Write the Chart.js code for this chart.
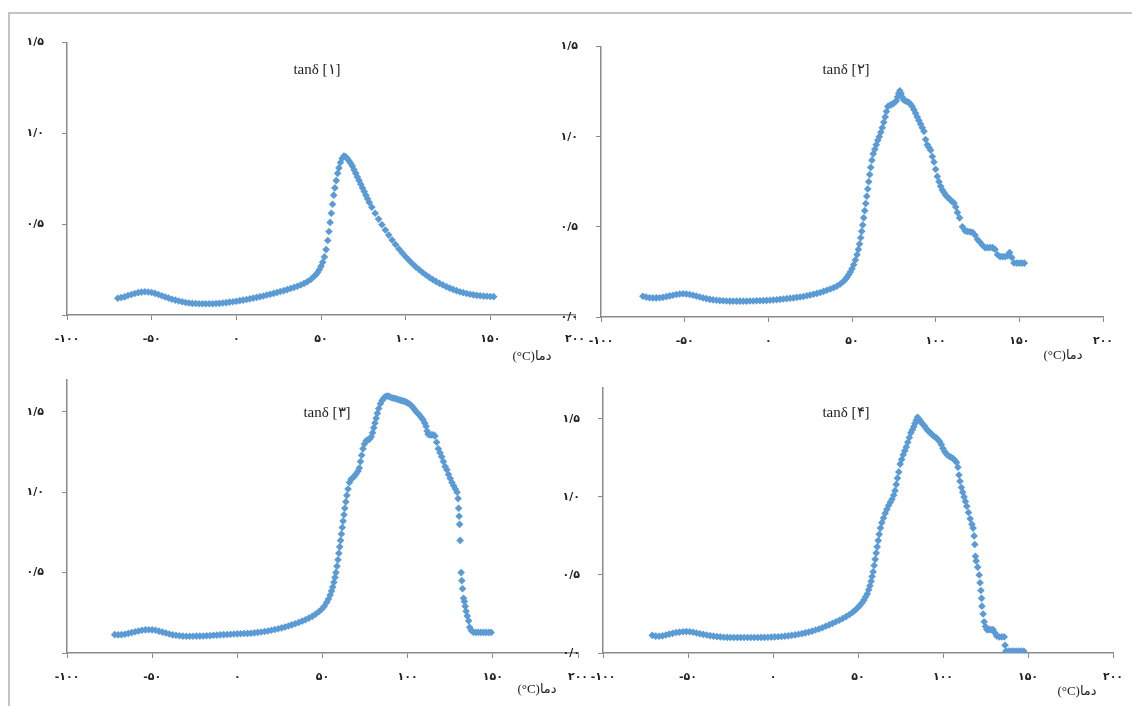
<!DOCTYPE html>
<html>
<head>
<meta charset="utf-8">
<script src="https://cdn.jsdelivr.net/npm/chart.js@4"></script>
<style>
    body { margin: 0; background: #fff; width: 1132px; height: 706px; overflow: hidden; position: relative; }
    #frame { position: absolute; left: 8px; top: 12px; width: 1130px; height: 700px; border-top: 2px solid #c4c4c4; border-left: 2px solid #c4c4c4; }
    canvas { position: absolute; }
</style>
</head>
<body>
<div id="frame"></div>
<canvas id="c1"></canvas>
<canvas id="c2"></canvas>
<canvas id="c3"></canvas>
<canvas id="c4"></canvas>
<script>
const xTicks = [-100, -50, 0, 50, 100, 150, 200];
const yTicks = [0, 0.5, 1.0, 1.5];
const axisTitle = '(°C)دما';
const seriesNames = ['tanδ [۱]', 'tanδ [۲]', 'tanδ [۳]', 'tanδ [۴]'];

const temp1 = [-70,-68,-66,-64,-62,-60,-58,-56,-54,-52,-50,-48,-46,-44,-42,-40,-38,-36,-34,-32,-30,-28,-26,-24,-22,-20,-18,-16,-14,-12,-10,-8,-6,-4,-2,0,2,4,6,8,10,12,14,16,18,20,22,24,26,28,30,32,34,36,38,40,42,44,46,47,48,49,50,51,52,53,54,54.7,55.4,56.1,56.8,57.5,58.2,59,59.8,60.6,61.5,62.5,63.5,64.5,65.5,66.5,67.5,68.5,69.5,70.5,71.5,72.5,73.5,74.5,75.5,76.5,77.5,78.5,80,82,84,86,88,90,92,94,96,98,100,102,104,106,108,110,112,114,116,118,120,122,124,126,128,130,132,134,136,138,140,142,144,146,148,150,152];
const tan1 = [0.092,0.096,0.100,0.107,0.113,0.118,0.123,0.126,0.128,0.127,0.124,0.119,0.113,0.106,0.099,0.093,0.087,0.082,0.077,0.073,0.069,0.066,0.064,0.063,0.062,0.062,0.062,0.062,0.062,0.063,0.064,0.066,0.068,0.071,0.073,0.076,0.079,0.082,0.085,0.089,0.093,0.097,0.101,0.105,0.110,0.114,0.119,0.124,0.129,0.134,0.140,0.146,0.152,0.158,0.165,0.174,0.184,0.196,0.213,0.222,0.234,0.249,0.268,0.29,0.32,0.36,0.41,0.46,0.51,0.56,0.61,0.66,0.70,0.74,0.78,0.81,0.84,0.862,0.875,0.872,0.862,0.85,0.836,0.82,0.80,0.78,0.76,0.74,0.72,0.70,0.68,0.66,0.64,0.62,0.594,0.56,0.528,0.497,0.468,0.44,0.413,0.388,0.364,0.342,0.321,0.301,0.282,0.265,0.249,0.234,0.22,0.207,0.195,0.184,0.174,0.165,0.156,0.148,0.141,0.134,0.128,0.123,0.118,0.114,0.111,0.108,0.106,0.104,0.103,0.102,0.101];

const temp2 = [-75,-73,-71,-69,-67,-65,-63,-61,-59,-57,-55,-53,-51,-49,-47,-45,-43,-41,-39,-37,-35,-33,-31,-29,-27,-25,-23,-21,-19,-17,-15,-13,-11,-9,-7,-5,-3,-1,1,3,5,7,9,11,13,15,17,19,21,23,25,27,29,31,33,35,37,39,41,43,45,46,47,48,49,50,51,52,53,53.8,54.5,55.2,55.8,56.4,57,57.6,58.2,58.8,59.4,60,60.6,61.2,61.9,62.7,63.6,64.5,65.4,66.3,67.2,68.1,69,69.8,70.6,71.4,72.5,73.5,74.5,75.5,76.5,77.2,77.9,78.6,79.3,80,80.8,81.8,83,84,85,86,87,88,89,90,91,92,93,94,95,96,97,98,99,100,101,102,103,104,105,106,107,108,109,110,111,112,113,114.3,116,117.6,119,120.5,122,123.5,125,126.5,128,129.5,131,132.5,134,135.5,137,138.5,140,141.5,143,144.2,145.5,146.8,148.5,150,151.5,153];
const tan2 = [0.115,0.110,0.107,0.106,0.106,0.107,0.109,0.113,0.117,0.121,0.125,0.128,0.129,0.128,0.125,0.121,0.116,0.111,0.106,0.102,0.098,0.095,0.093,0.091,0.090,0.089,0.088,0.088,0.088,0.088,0.088,0.088,0.089,0.089,0.090,0.090,0.091,0.092,0.093,0.094,0.096,0.098,0.100,0.102,0.104,0.106,0.109,0.111,0.114,0.118,0.122,0.126,0.131,0.136,0.142,0.148,0.155,0.162,0.171,0.183,0.198,0.208,0.22,0.234,0.25,0.268,0.29,0.316,0.345,0.375,0.405,0.44,0.475,0.51,0.55,0.59,0.63,0.67,0.71,0.75,0.79,0.83,0.87,0.905,0.93,0.955,0.98,1.0,1.025,1.05,1.08,1.11,1.14,1.168,1.175,1.178,1.183,1.19,1.2,1.22,1.24,1.255,1.24,1.22,1.205,1.198,1.195,1.19,1.18,1.168,1.15,1.13,1.11,1.09,1.07,1.05,1.03,0.985,0.955,0.94,0.925,0.89,0.86,0.82,0.78,0.75,0.725,0.705,0.69,0.675,0.665,0.657,0.648,0.64,0.632,0.61,0.58,0.55,0.5,0.478,0.475,0.472,0.47,0.455,0.43,0.415,0.398,0.385,0.385,0.385,0.385,0.375,0.345,0.335,0.335,0.335,0.34,0.358,0.33,0.3,0.299,0.299,0.299,0.299];

const temp3 = [-72,-70,-68,-66,-64,-62,-60,-58,-56,-54,-52,-50,-48,-46,-44,-42,-40,-38,-36,-34,-32,-30,-28,-26,-24,-22,-20,-18,-16,-14,-12,-10,-8,-6,-4,-2,0,2,4,6,8,10,12,14,16,18,20,22,24,26,28,30,32,34,36,38,40,42,44,46,48,49.5,51,52.5,53.5,54.5,55.3,56,56.7,57.3,57.9,58.5,59.1,59.6,60.1,60.6,61.1,61.6,62.1,62.6,63.1,63.7,64.3,65,65.8,66.8,67.8,68.8,69.8,70.8,71.6,72.3,73,73.8,74.6,75.6,76.6,77.6,78.6,79.4,80.1,80.8,81.5,82.2,83,84,85,86,87,88,89,90,91,92,93,94,95,96,97,98,99,100,101,102,103,104,105,106,107,108,109,110,110.8,111.4,112,113,114,115,116,117,118,119,120,121,122,123,124,125,126,127,128,129,129.6,129.9,130.2,130.5,130.8,131.4,131.8,132.2,132.8,133.3,133.8,134.3,135,135.8,136.4,137.4,138.5,140,141.5,143,144.5,146,147.5,149];
const tan3 = [0.114,0.113,0.114,0.117,0.122,0.127,0.132,0.137,0.141,0.144,0.145,0.144,0.141,0.136,0.130,0.124,0.118,0.113,0.110,0.107,0.105,0.104,0.104,0.104,0.105,0.105,0.106,0.107,0.108,0.110,0.111,0.113,0.114,0.115,0.117,0.118,0.119,0.120,0.121,0.122,0.123,0.125,0.128,0.131,0.134,0.137,0.141,0.146,0.151,0.156,0.162,0.168,0.175,0.182,0.19,0.198,0.207,0.217,0.228,0.242,0.258,0.272,0.29,0.315,0.335,0.36,0.385,0.41,0.44,0.47,0.5,0.54,0.58,0.62,0.66,0.7,0.74,0.78,0.82,0.86,0.9,0.94,0.98,1.02,1.06,1.08,1.09,1.1,1.115,1.13,1.15,1.19,1.23,1.27,1.3,1.32,1.325,1.33,1.345,1.37,1.4,1.43,1.46,1.49,1.52,1.55,1.57,1.585,1.595,1.598,1.596,1.59,1.586,1.584,1.582,1.578,1.574,1.571,1.568,1.565,1.56,1.555,1.548,1.54,1.528,1.515,1.5,1.49,1.478,1.465,1.45,1.43,1.41,1.38,1.36,1.356,1.356,1.356,1.35,1.31,1.27,1.245,1.22,1.19,1.16,1.14,1.11,1.085,1.06,1.04,1.02,1.0,0.96,0.9,0.85,0.8,0.7,0.5,0.45,0.4,0.34,0.32,0.29,0.26,0.23,0.2,0.16,0.14,0.13,0.128,0.128,0.128,0.128,0.128,0.128,0.128];

const temp4 = [-71,-69,-67,-65,-63,-61,-59,-57,-55,-53,-51,-49,-47,-45,-43,-41,-39,-37,-35,-33,-31,-29,-27,-25,-23,-21,-19,-17,-15,-13,-11,-9,-7,-5,-3,-1,1,3,5,7,9,11,13,15,17,19,21,23,25,27,29,31,33,35,37,39,41,43,45,47,48.5,50,51.2,52.4,53.5,54.5,55.5,56.3,57,57.7,58.3,58.9,59.5,60.1,60.7,61.3,61.9,62.5,63.2,64,65,66,67,68,69,70,71,71.8,72.5,73.2,74,74.8,75.7,76.6,77.5,78.4,79.3,80.2,81.1,82,82.8,83.5,84.2,85,85.8,86.6,87.4,88.2,89,90,91,92,93,94,95,96,97,98,99,100,101,102,103,104,105,106,107,108,108.8,109.4,110,110.8,111.6,112.4,113.2,114,115,116,117,117.7,118.3,118.7,119.1,119.5,120.4,121.3,121.8,122.3,122.7,122.9,123.6,124.2,125,125.8,127,128.2,129.4,130.5,131.5,133,134.5,136,136.5,137,138.5,140,141.5,143,144.5,146,147.5];
const tan4 = [0.113,0.108,0.107,0.110,0.115,0.121,0.126,0.131,0.134,0.136,0.137,0.136,0.133,0.128,0.123,0.119,0.115,0.111,0.108,0.105,0.103,0.101,0.100,0.099,0.099,0.099,0.099,0.099,0.099,0.099,0.099,0.099,0.100,0.100,0.101,0.102,0.103,0.104,0.106,0.108,0.110,0.113,0.116,0.120,0.124,0.129,0.134,0.14,0.147,0.154,0.162,0.171,0.18,0.19,0.2,0.21,0.221,0.233,0.247,0.262,0.276,0.292,0.306,0.322,0.34,0.36,0.38,0.405,0.43,0.46,0.49,0.52,0.56,0.6,0.64,0.68,0.72,0.76,0.8,0.835,0.865,0.895,0.92,0.945,0.965,0.985,1.01,1.04,1.08,1.12,1.16,1.21,1.24,1.27,1.295,1.32,1.35,1.38,1.41,1.43,1.45,1.47,1.49,1.51,1.5,1.488,1.475,1.465,1.455,1.44,1.425,1.415,1.405,1.395,1.385,1.378,1.368,1.355,1.335,1.31,1.29,1.275,1.265,1.258,1.252,1.245,1.235,1.22,1.19,1.14,1.1,1.06,1.03,1.0,0.97,0.94,0.9,0.86,0.825,0.8,0.75,0.695,0.62,0.59,0.55,0.5,0.45,0.4,0.35,0.3,0.25,0.2,0.17,0.15,0.15,0.15,0.15,0.13,0.11,0.103,0.103,0.103,0.05,0.012,0.012,0.012,0.012,0.012,0.012,0.012,0.012];

// plot area of each panel on the page, plus where its texts go
const panels = [
    { id: 'c1', temps: temp1, values: tan1, left: 67, right: 575, top: 33, bottom: 315, yMax: 1.5, zeroLabel: false, ann: [317, 70], title: [532, 357] },
    { id: 'c2', temps: temp2, values: tan2, left: 601, right: 1103, top: 37, bottom: 317, yMax: 1.5, zeroLabel: true, ann: [846, 70], title: [1063, 356] },
    { id: 'c3', temps: temp3, values: tan3, left: 67, right: 578, top: 370, bottom: 653, yMax: 1.7, zeroLabel: false, ann: [327, 413], title: [537, 690] },
    { id: 'c4', temps: temp4, values: tan4, left: 603, right: 1113, top: 378, bottom: 653, yMax: 1.7, zeroLabel: true, ann: [846, 413], title: [1077, 692] }
];

const PAD_L = 60, PAD_T = 15, PAD_R = 25, PAD_B = 50;
const faDigits = '۰۱۲۳۴۵۶۷۸۹';

function toFa(str) {
    return String(str).replace(/[0-9]/g, d => faDigits[d]);
}

function yLabel(v) {
    return toFa(v.toFixed(1).replace('.', '/'));
}

const textPlugin = {
    id: 'panelText',
    afterDraw(chart, args, opts) {
        const ctx = chart.ctx;
        ctx.save();
        ctx.fillStyle = '#222';
        ctx.textAlign = 'center';
        ctx.textBaseline = 'middle';
        ctx.font = '15px "Liberation Serif"';
        ctx.fillText(opts.name, opts.ann[0] - opts.offX, opts.ann[1] - opts.offY);
        ctx.font = '13px "Liberation Serif", "DejaVu Sans"';
        ctx.fillText(axisTitle, opts.title[0] - opts.offX, opts.title[1] - opts.offY);
        ctx.restore();
    }
};

panels.forEach((p, i) => {
    const canvas = document.getElementById(p.id);
    const offX = p.left - PAD_L;
    const offY = p.top - PAD_T;
    canvas.width = p.right - p.left + PAD_L + PAD_R;
    canvas.height = p.bottom - p.top + PAD_T + PAD_B;
    canvas.style.left = offX + 'px';
    canvas.style.top = offY + 'px';

    const points = p.temps.map((t, k) => ({ x: t, y: p.values[k] }));
    const tickFont = { family: 'DejaVu Sans', size: 11, weight: 'bold' };

    new Chart(canvas, {
        type: 'scatter',
        data: {
            datasets: [{
                data: points,
                pointStyle: 'rectRot',
                pointRadius: 3.8,
                pointBorderWidth: 0,
                backgroundColor: '#5b9bd5',
                borderColor: '#5b9bd5'
            }]
        },
        options: {
            responsive: false,
            animation: false,
            devicePixelRatio: 1,
            layout: { padding: { left: 0, top: PAD_T, right: PAD_R, bottom: 0 } },
            plugins: {
                legend: { display: false },
                tooltip: { enabled: false },
                panelText: { name: seriesNames[i], ann: p.ann, title: p.title, offX: offX, offY: offY }
            },
            scales: {
                x: {
                    type: 'linear',
                    min: xTicks[0],
                    max: xTicks[xTicks.length - 1],
                    afterFit: s => { s.height = PAD_B; },
                    afterBuildTicks: s => { s.ticks = xTicks.map(v => ({ value: v })); },
                    ticks: {
                        font: tickFont,
                        color: '#222',
                        padding: 13,
                        maxRotation: 0,
                        callback: v => toFa(v)
                    },
                    grid: { drawOnChartArea: false, tickLength: 5, color: '#8a8a8a' },
                    border: { color: '#8a8a8a', width: 1.5 }
                },
                y: {
                    min: 0,
                    max: p.yMax,
                    afterFit: s => { s.width = PAD_L; },
                    afterBuildTicks: s => { s.ticks = yTicks.map(v => ({ value: v })); },
                    ticks: {
                        font: tickFont,
                        color: '#222',
                        padding: 18,
                        callback: v => (v === 0 && !p.zeroLabel) ? '' : yLabel(v)
                    },
                    grid: { drawOnChartArea: false, tickLength: 5, color: '#8a8a8a' },
                    border: { color: '#8a8a8a', width: 1.5 }
                }
            }
        },
        plugins: [textPlugin]
    });
});
</script>
</body>
</html>
